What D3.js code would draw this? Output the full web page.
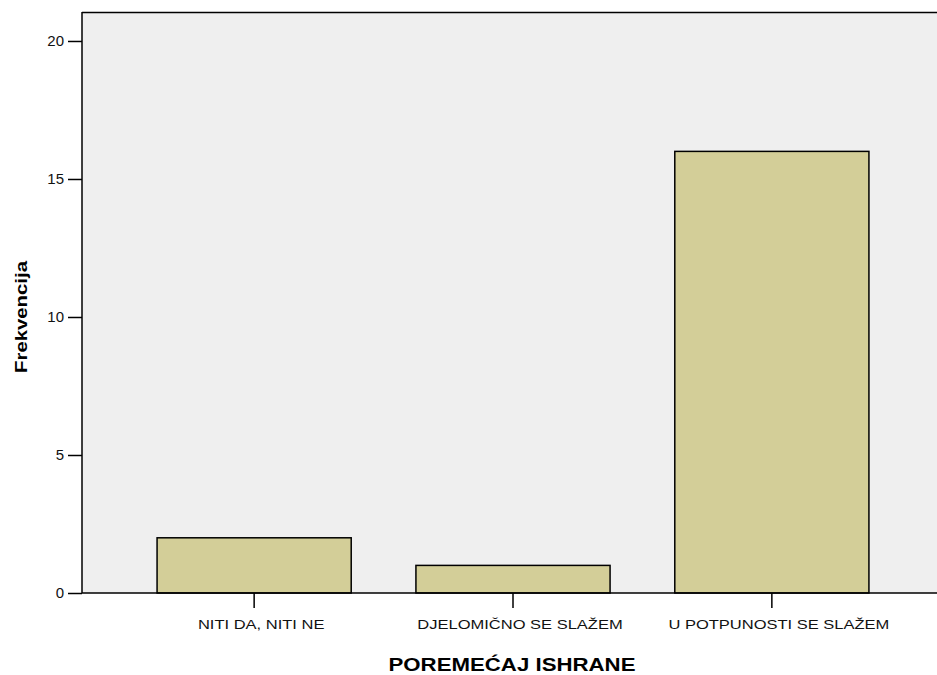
<!DOCTYPE html>
<html>
<head>
<meta charset="utf-8">
<script src="https://cdn.jsdelivr.net/npm/d3@7"></script>
<style>
	body { margin: 0; background: #fff; }
	svg { display: block; font-family: "Liberation Sans", Arial, sans-serif; }
</style>
</head>
<body>
<div id="chart"></div>
<script>
// Data
const categories = ["NITI DA, NITI NE", "DJELOMIČNO SE SLAŽEM", "U POTPUNOSTI SE SLAŽEM"];
const counts = [2, 1, 16];
const yTicks = [0, 5, 10, 15, 20];

const W = 937, H = 675;
const margin = { top: 12, right: -7, bottom: 82, left: 82 };
const width = W - margin.left - margin.right,
	height = H - margin.top - margin.bottom;

const svg = d3.select("#chart")
	.append("svg")
	.attr("width", W)
	.attr("height", H);

const g = svg.append("g")
	.attr("transform", `translate(${margin.left},${margin.top})`);

// Scales
const x = d3.scaleBand()
	.domain(categories)
	.range([0, width])
	.paddingInner(0.25)
	.paddingOuter(0.29);

const y = d3.scaleLinear()
	.domain([0, 21.05])
	.range([height, 0]);

// Plot background
g.append("rect")
	.attr("width", width)
	.attr("height", height)
	.attr("fill", "#efefef");

// top border
g.append("line")
	.attr("x1", 0).attr("x2", width)
	.attr("y1", 0.5).attr("y2", 0.5)
	.attr("stroke", "#000")
	.attr("stroke-width", 1.5);

// Bars
g.selectAll(".bar")
	.data(counts)
	.enter()
	.append("rect")
	.attr("class", "bar")
	.attr("x", (d, i) => x(categories[i]))
	.attr("y", d => y(d))
	.attr("width", x.bandwidth())
	.attr("height", d => y(0) - y(d))
	.attr("fill", "#d3ce98")
	.attr("stroke", "#000")
	.attr("stroke-width", 1.5);

// Y axis
const yAxis = g.append("g")
	.call(d3.axisLeft(y).tickValues(yTicks).tickSize(14).tickPadding(4).tickFormat(d3.format("d")));
yAxis.select(".domain").attr("stroke-width", 1.5).attr("d", `M0,${height}V0`);
yAxis.selectAll(".tick line").attr("stroke-width", 1.5);
yAxis.selectAll(".tick text").style("font-size", "15px").attr("fill", "#111");

// X axis
const xAxis = g.append("g")
	.attr("transform", `translate(0,${height})`)
	.call(d3.axisBottom(x).tickSize(15).tickPadding(12));
xAxis.select(".domain").attr("stroke-width", 1.5).attr("d", `M0,0H${width}`);
xAxis.selectAll(".tick line").attr("stroke-width", 1.5);
xAxis.selectAll(".tick text")
	.attr("class", "wide-cat")
	.attr("dx", 7)
	.style("font-size", "12.5px")
	.attr("fill", "#111");

// Axis titles
svg.append("text")
	.attr("class", "wide")
	.attr("x", 512)
	.attr("y", 671)
	.attr("text-anchor", "middle")
	.style("font-size", "17.5px")
	.style("font-weight", "bold")
	.text("POREMEĆAJ ISHRANE");

svg.append("text")
	.attr("class", "wide")
	.attr("transform", "rotate(-90)")
	.attr("x", -317)
	.attr("y", 27)
	.attr("text-anchor", "middle")
	.style("font-size", "16px")
	.style("font-weight", "bold")
	.text("Frekvencija");

// the reference text is drawn wider than Liberation Sans
function widen(sel, k) {
	sel.each(function() {
		const len = this.getComputedTextLength();
		d3.select(this)
			.attr("textLength", len * k)
			.attr("lengthAdjust", "spacingAndGlyphs");
	});
}
widen(svg.selectAll(".wide"), 1.27);
widen(svg.selectAll(".wide-cat"), 1.32);
</script>
</body>
</html>
